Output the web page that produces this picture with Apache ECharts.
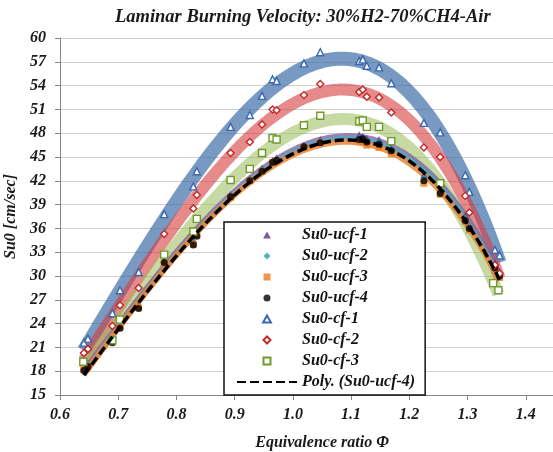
<!DOCTYPE html>
<html><head><meta charset="utf-8">
<script src="https://cdn.jsdelivr.net/npm/echarts@6/dist/echarts.min.js"></script>
<style>html,body{margin:0;padding:0;background:#fff}#c{width:553px;height:452px}</style>
</head><body><div id="c"></div>
<script>
// ---- data ----
const titleText = 'Laminar Burning Velocity: 30%H2-70%CH4-Air';
const xName = 'Equivalence ratio Φ';
const yName = 'Su0 [cm/sec]';

const phiUcf = [0.641,0.648,0.690,0.703,0.735,0.779,0.829,0.835,0.893,0.926,0.947,0.965,0.972,1.019,1.047,1.114,1.120,1.127,1.148,1.169,1.225,1.253,1.296,1.303,1.347,1.355];
const su0Ucf1 = [18.4,19.0,22.0,23.8,26.3,31.9,34.6,35.5,40.3,42.3,43.6,44.6,44.9,46.5,47.2,47.8,47.6,47.3,47.2,46.1,42.8,40.9,37.6,36.3,31.6,30.5];
const su0Ucf2 = [18.3,18.9,21.8,23.6,26.1,31.8,34.3,35.2,40.1,42.2,43.4,44.4,44.7,46.4,47.0,47.4,47.4,47.0,46.9,45.9,42.4,40.6,37.3,36.2,31.3,30.2];
const su0Ucf3 = [18.2,18.7,21.7,23.5,26.0,31.6,34.0,35.1,39.9,42.0,43.2,44.3,44.5,46.2,46.8,47.0,46.9,46.5,46.2,45.4,41.7,40.3,36.9,35.8,30.8,29.8];
const su0Ucf4 = [18.1,18.6,21.6,23.4,25.9,31.7,33.9,35.0,40.0,42.0,43.2,44.3,44.6,46.3,46.8,47.2,47.3,46.9,46.6,45.8,42.0,40.4,37.0,36.0,31.0,30.0];

const phiCf1 = [0.641,0.648,0.690,0.703,0.735,0.779,0.829,0.835,0.893,0.926,0.947,0.965,0.972,1.019,1.047,1.114,1.120,1.127,1.148,1.169,1.225,1.253,1.296,1.303,1.347,1.355];
const su0Cf1 = [21.6,22.1,25.3,28.2,30.5,37.8,41.3,43.2,48.8,50.3,52.7,54.8,54.6,56.8,58.2,57.1,57.3,56.5,56.3,54.3,49.3,48.1,42.7,40.6,33.3,32.6];

const phiCf2 = [0.641,0.648,0.690,0.703,0.735,0.779,0.829,0.835,0.893,0.926,0.947,0.965,0.972,1.019,1.047,1.114,1.120,1.127,1.148,1.169,1.225,1.253,1.296,1.303,1.347,1.355];
const su0Cf2 = [20.3,20.8,23.7,26.3,28.5,35.3,38.5,40.2,45.5,46.9,49.1,51.0,50.9,52.8,54.2,53.2,53.5,52.6,52.5,50.6,46.2,45.0,40.1,38.0,31.4,30.3];

const phiCf3 = [0.640,0.690,0.703,0.779,0.829,0.835,0.893,0.926,0.947,0.965,0.972,1.019,1.047,1.114,1.120,1.127,1.148,1.169,1.253,1.344,1.353];
const su0Cf3 = [19.2,21.9,24.5,32.7,35.6,37.2,42.1,43.5,45.5,47.4,47.2,49.0,50.2,49.5,49.6,48.8,48.8,47.0,41.7,29.1,28.2];

const seriesNames = ['Su0-ucf-1','Su0-ucf-2','Su0-ucf-3','Su0-ucf-4','Su0-cf-1','Su0-cf-2','Su0-cf-3','Poly. (Su0-ucf-4)'];

// ---- polynomial least-squares trendline (like a spreadsheet's trendline) ----
function polyFit(xs, ys, order) {
  const n = order + 1, x0 = 1.0;
  const A = Array.from({length:n}, () => new Array(n).fill(0));
  const b = new Array(n).fill(0);
  for (let i = 0; i < xs.length; i++) {
    const t = xs[i] - x0;
    for (let j = 0; j < n; j++) {
      b[j] += ys[i] * Math.pow(t, j);
      for (let k = 0; k < n; k++) A[j][k] += Math.pow(t, j + k);
    }
  }
  for (let c = 0; c < n; c++) {
    let p = c;
    for (let r = c + 1; r < n; r++) if (Math.abs(A[r][c]) > Math.abs(A[p][c])) p = r;
    [A[c], A[p]] = [A[p], A[c]]; [b[c], b[p]] = [b[p], b[c]];
    for (let r = c + 1; r < n; r++) {
      const f = A[r][c] / A[c][c];
      for (let k = c; k < n; k++) A[r][k] -= f * A[c][k];
      b[r] -= f * b[c];
    }
  }
  const coef = new Array(n).fill(0);
  for (let r = n - 1; r >= 0; r--) {
    let s = b[r];
    for (let k = r + 1; k < n; k++) s -= A[r][k] * coef[k];
    coef[r] = s / A[r][r];
  }
  return {coef, x0};
}
function trendline(xs, ys, order) {
  const {coef, x0} = polyFit(xs, ys, order);
  const lo = Math.min(...xs), hi = Math.max(...xs), steps = 80, pts = [];
  for (let s = 0; s <= steps; s++) {
    const x = lo + (hi - lo) * s / steps;
    let y = 0;
    for (let j = 0; j < coef.length; j++) y += coef[j] * Math.pow(x - x0, j);
    pts.push([x, y]);
  }
  return pts;
}
const zip = (xs, ys) => xs.map((x, i) => [x, ys[i]]);

const FONT = '"Liberation Serif", "DejaVu Serif", serif';
function band(xs, ys, color, width, opacity) {
  return {
    type: 'line', data: trendline(xs, ys, 3), showSymbol: false, symbol: 'none', silent: true, z: 1,
    lineStyle: {color, width, opacity, cap: 'butt', join: 'round'}
  };
}
function scatter(name, xs, ys, symbol, size, color, filled) {
  return {
    type: 'scatter', name, data: zip(xs, ys), symbol, symbolSize: size, z: 3,
    itemStyle: filled ? {color, borderColor: color, borderWidth: 0}
                      : {color: '#ffffff', borderColor: color, borderWidth: 1.4, opacity: 1}
  };
}

// legend icon shapes (kept square inside the wide legend icon box)
const ICON_TRI = 'path://M5,0 L10,9 L0,9 Z';
const ICON_DIA = 'path://M5,0 L10,5 L5,10 L0,5 Z';
const ICON_SQ = 'path://M0,0 L10,0 L10,10 L0,10 Z';
const ICON_CIR = 'path://M10,5 A5,5 0 1 1 0,5 A5,5 0 1 1 10,5 Z';

const chart = echarts.init(document.getElementById('c'), null, {renderer: 'canvas'});
chart.setOption({
  animation: false,
  backgroundColor: '#ffffff',
  title: {
    text: titleText, left: 110, top: 3,
    textStyle: {fontFamily: FONT, fontSize: 18.5, fontWeight: 'bold', fontStyle: 'italic', color: '#1a1a1a'}
  },
  grid: {left: 60, right: -31, top: 38, bottom: 57, containLabel: false, outerBoundsMode: 'none'},
  xAxis: {
    type: 'value', min: 0.6, max: 1.5, interval: 0.1,
    name: xName, nameLocation: 'middle', nameGap: 40,
    nameTextStyle: {fontFamily: FONT, fontSize: 16, fontWeight: 'bold', fontStyle: 'italic', color: '#1a1a1a'},
    axisLine: {show: true, lineStyle: {color: '#868686', width: 1}},
    axisTick: {show: true, inside: false, length: 5, lineStyle: {color: '#868686'}},
    splitLine: {show: false},
    axisLabel: {
      margin: 12, formatter: v => v.toFixed(1),
      fontFamily: FONT, fontSize: 16, fontWeight: 'bold', fontStyle: 'italic', color: '#1a1a1a'
    }
  },
  yAxis: {
    type: 'value', min: 15, max: 60, interval: 3,
    name: yName, nameLocation: 'middle', nameGap: 34, nameRotate: 90,
    nameTextStyle: {fontFamily: FONT, fontSize: 16, fontWeight: 'bold', fontStyle: 'italic', color: '#1a1a1a'},
    axisLine: {show: true, lineStyle: {color: '#868686', width: 1}},
    axisTick: {show: true, inside: false, length: 5, lineStyle: {color: '#868686'}},
    splitLine: {show: true, lineStyle: {color: '#d0d0d0', width: 1.2}},
    axisLabel: {
      margin: 14,
      fontFamily: FONT, fontSize: 16, fontWeight: 'bold', fontStyle: 'italic', color: '#1a1a1a'
    }
  },
  legend: {
    left: 224, top: 222, orient: 'vertical',
    data: [
      {name: seriesNames[0], icon: ICON_TRI},
      {name: seriesNames[1], icon: ICON_DIA},
      {name: seriesNames[2], icon: ICON_SQ},
      {name: seriesNames[3], icon: ICON_CIR},
      {name: seriesNames[4], icon: ICON_TRI},
      {name: seriesNames[5], icon: ICON_DIA},
      {name: seriesNames[6], icon: ICON_SQ},
      {name: seriesNames[7], itemStyle: {opacity: 0, color: 'rgba(0,0,0,0)', borderWidth: 0}}
    ],
    symbolKeepAspect: true,
    padding: [5, 10, 5, 12],
    itemWidth: 60, itemHeight: 7, itemGap: 5,
    borderColor: '#111', borderWidth: 1.5, backgroundColor: '#ffffff',
    selectedMode: false,
    textStyle: {fontFamily: FONT, fontSize: 16, lineHeight: 16, fontWeight: 'bold', fontStyle: 'italic', color: '#111'}
  },
  series: [
    band(phiCf1, su0Cf1, '#3f6ea8', 14, 0.7),
    band(phiCf2, su0Cf2, '#d63c3c', 12, 0.6),
    band(phiCf3, su0Cf3, '#9bbb59', 12, 0.55),
    band(phiUcf, su0Ucf1, '#8064a2', 7, 0.8),
    band(phiUcf, su0Ucf2, '#4bacc6', 5, 0.8),
    band(phiUcf, su0Ucf3, '#e8863a', 6, 0.85),
    scatter(seriesNames[0], phiUcf, su0Ucf1, 'triangle', 7, '#5b2d8e', true),
    scatter(seriesNames[1], phiUcf, su0Ucf2, 'diamond', 7, '#2e9bb5', true),
    scatter(seriesNames[2], phiUcf, su0Ucf3, 'rect', 7, '#f07a1a', true),
    scatter(seriesNames[3], phiUcf, su0Ucf4, 'circle', 7, '#000000', true),
    scatter(seriesNames[4], phiCf1, su0Cf1, 'triangle', 7, '#3a68b0', false),
    scatter(seriesNames[5], phiCf2, su0Cf2, 'diamond', 7, '#c0282a', false),
    scatter(seriesNames[6], phiCf3, su0Cf3, 'rect', 7, '#6f9a2a', false),
    {
      type: 'line', name: seriesNames[7], data: trendline(phiUcf, su0Ucf4, 3),
      symbol: 'none', showSymbol: false, z: 4, silent: true,
      itemStyle: {color: '#000'},
      lineStyle: {color: '#000', width: 3.5, type: [9, 4], cap: 'butt'}
    }
  ]
});
</script>
</body></html>
